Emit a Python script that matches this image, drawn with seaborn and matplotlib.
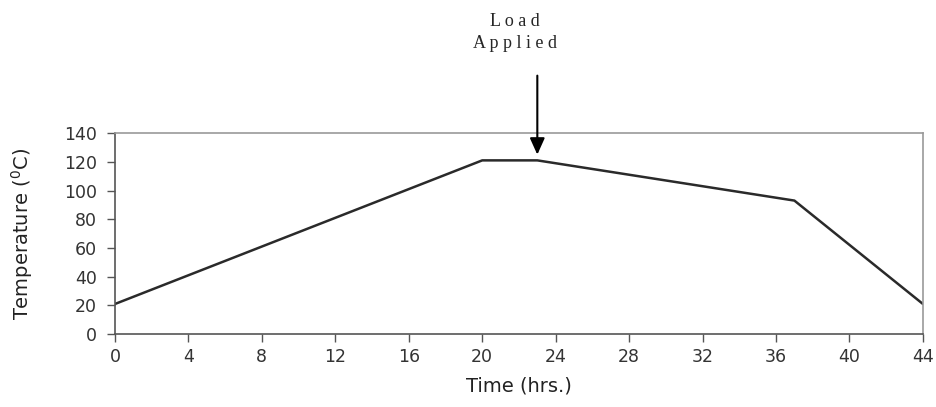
import numpy as np
import pandas as pd
import matplotlib
matplotlib.use("Agg")
import matplotlib.pyplot as plt
import seaborn as sns

# Temperature profile
time_hrs = [0, 20, 23, 37, 44]
temperature = [21, 121, 121, 93, 21]
x_ticks = [0, 4, 8, 12, 16, 20, 24, 28, 32, 36, 40, 44]
y_ticks = [0, 20, 40, 60, 80, 100, 120, 140]
load_time = 23
load_temp = 121

data = pd.DataFrame({"Time": time_hrs, "Temperature": temperature})

sns.set_style("white")
plt.rcParams["font.family"] = ["DejaVu Sans"]
plt.rcParams["mathtext.fontset"] = "dejavusans"

fig = plt.figure(figsize=(9.37, 4.07), dpi=100)
ax = fig.add_axes([0.1227, 0.179, 0.8623, 0.494])

sns.lineplot(data=data, x="Time", y="Temperature", color="#2a2a2a", linewidth=1.8, ax=ax)

ax.set_xlim(0, 44)
ax.set_ylim(0, 140)
ax.set_xticks(x_ticks)
ax.set_yticks(y_ticks)
ax.tick_params(axis="both", direction="out", length=6, width=1, color="#555555",
               labelsize=12.5, labelcolor="#333333", bottom=True, left=True)
ax.tick_params(axis="y", pad=7)
ax.tick_params(axis="x", pad=4)
for side, sp in ax.spines.items():
    sp.set_color("#999999")
    sp.set_linewidth(1.2)
ax.spines["left"].set_color("#555555")
ax.spines["bottom"].set_color("#555555")

ax.set_xlabel("Time (hrs.)", fontsize=14, color="#222222")
ax.set_ylabel("Temperature ($^0$C)", fontsize=14, color="#222222")
ax.xaxis.set_label_coords(0.5, -0.21)
ax.yaxis.set_label_coords(-0.099, 0.5)

# Load applied annotation
ax.annotate("", xy=(load_time, 125), xytext=(load_time, 180),
            annotation_clip=False,
            arrowprops=dict(arrowstyle="-|>,head_length=1.0,head_width=0.45",
                            color="black", lw=1.5, shrinkA=0, shrinkB=0))
ax.text(21.8, 210, "L o a d\nA p p l i e d", ha="center", va="center",
        fontsize=13, family=["Liberation Serif", "DejaVu Serif"],
        linespacing=1.45, clip_on=False)

fig.savefig("out.png", dpi=100)
